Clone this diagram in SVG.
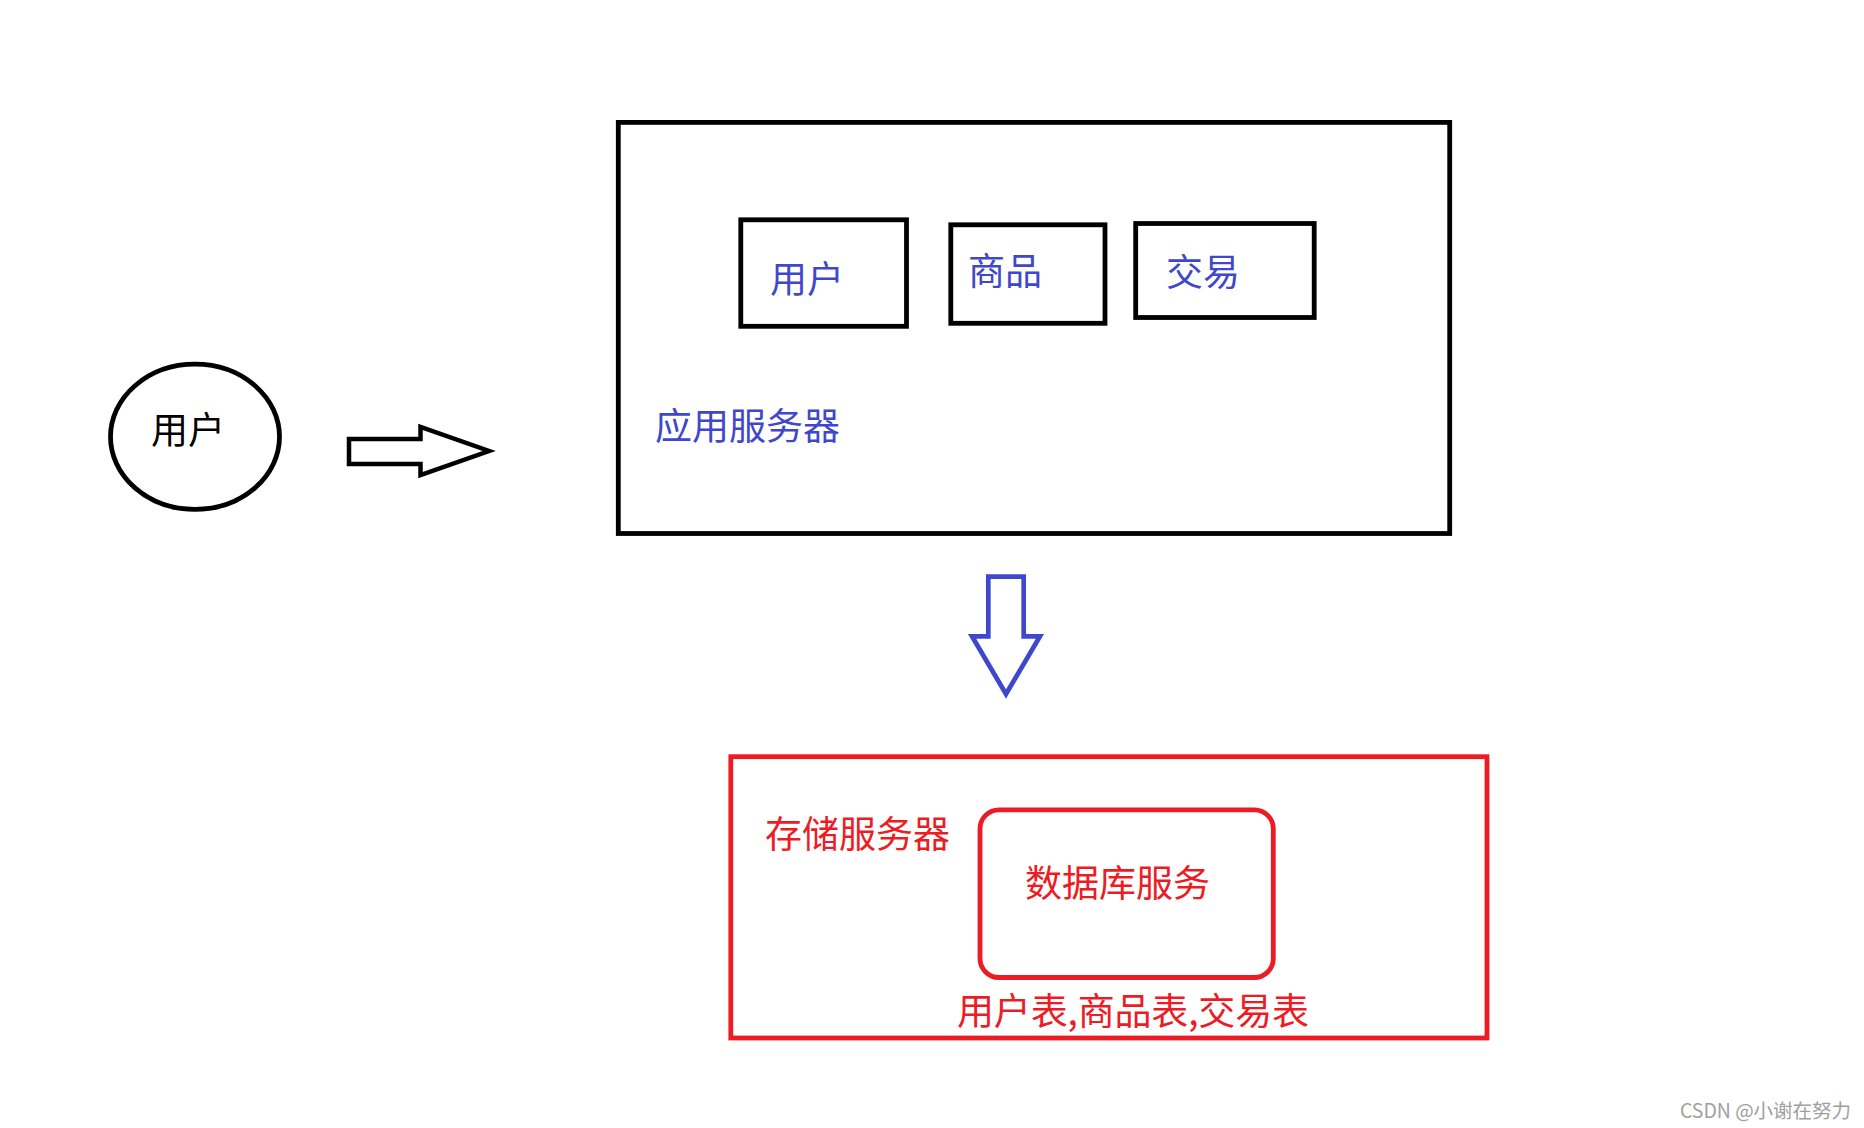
<svg xmlns="http://www.w3.org/2000/svg" width="1864" height="1128" viewBox="0 0 1864 1128">
<style>
.box{fill:none;stroke:#000;stroke-width:4.8}
.red{fill:none;stroke:#ED1C24;stroke-width:4.8}
.t{font-family:"Noto Sans CJK SC","Noto Sans",sans-serif;font-size:37px}
.blue{fill:#3F48CC}
.rt{fill:#ED1C24}
.bk{fill:#000}
</style>
<rect width="1864" height="1128" fill="#fff"/>
<g id="user">
<ellipse cx="195" cy="436.8" rx="84.5" ry="72.6" class="box" stroke-width="4.6"/>
<text x="151" y="444" class="t bk">用户</text>
</g>
<g id="app-server">
<rect x="618.3" y="122.4" width="831.4" height="411.1" class="box"/>
<text x="655" y="440" class="t blue">应用服务器</text>
</g>
<g id="mod-user">
<rect x="740.8" y="219.8" width="165.7" height="106.5" class="box"/>
<text x="770" y="293" class="t blue">用户</text>
</g>
<g id="mod-goods">
<rect x="950.8" y="224.8" width="154.2" height="98.5" class="box"/>
<text x="968" y="285" class="t blue">商品</text>
</g>
<g id="mod-trade">
<rect x="1135.7" y="223.5" width="178.5" height="94" class="box"/>
<text x="1166" y="286" class="t blue">交易</text>
</g>
<g id="storage-server">
<rect x="730.8" y="756.7" width="756.2" height="281.3" class="red"/>
<text x="765" y="848" class="t rt">存储服务器</text>
<text x="957" y="1025" class="t rt" textLength="352" lengthAdjust="spacing">用户表,商品表,交易表</text>
</g>
<g id="db-service">
<rect x="980" y="809.8" width="293.3" height="167.7" rx="19" ry="19" class="red"/>
<text x="1025" y="897" class="t rt">数据库服务</text>
</g>
<g id="connectors">
<polygon points="349,439 420.5,439 420.5,427 489,451 420.5,475 420.5,464 349,464" fill="#fff" stroke="#000" stroke-width="4.5" stroke-linejoin="miter"/>
<polygon points="988.3,576.7 1023.7,576.7 1023.7,636.3 1040,636.3 1006,694 972,636.3 988.3,636.3" fill="#fff" stroke="#3F48CC" stroke-width="4.7"/>
</g>
<text x="1680" y="1118" font-family="Noto Sans CJK SC, Noto Sans, sans-serif" font-size="19.5" fill="#a0a0a0" textLength="171" lengthAdjust="spacing">CSDN @小谢在努力</text>
</svg>
